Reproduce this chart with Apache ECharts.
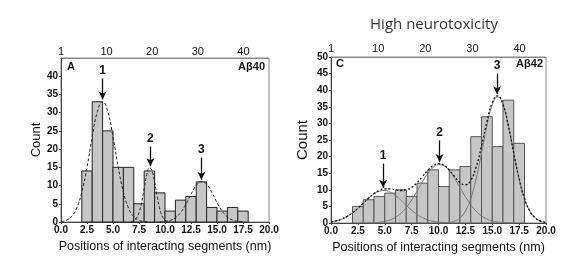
<!DOCTYPE html>
<html><head><meta charset="utf-8">
<script src="https://cdn.jsdelivr.net/npm/echarts@6/dist/echarts.min.js"></script>
<style>html,body{margin:0;padding:0;background:#fff}#c{width:573px;height:263px}</style>
</head><body><div id="c"></div><script>
// ---- data ----
const binStarts = [2,3,4,5,6,7,8,9,10,11,12,13,14,15,16,17];
const binWidth = 1;
const countsA = [14,33,25,15,15,5,14,8,3,6,7,11,4,3,4,3];
const countsC = [5,7,8,9,10,8,12,16,11,16,17,26,32,23,37,24];

// top residue axis tick labels
const topTickValues = [0,10,20,30,40];
const topTickLabels = ['1','10','20','30','40'];

// Panel A fitted curves
const curveA1 = [[0,0.13],[0.5,0.47],[1,1.45],[1.5,3.77],[2,8.23],[2.5,15.1],[3,23.3],[3.5,30.3],[4,33.0],[4.5,30.3],[5,23.3],[5.5,15.1],[6,8.23],[6.5,3.77],[7,1.45],[7.5,0.47],[8,0.13],[8.5,0.03]];
const curveA2 = [[6.75,0.09],[7,0.33],[7.25,1.01],[7.5,2.59],[7.75,5.4],[8,9.26],[8.25,13.0],[8.5,14.94],[8.75,14.07],[9,10.86],[9.25,6.87],[9.5,3.56],[9.75,1.51],[10,0.52],[10.25,0.15],[10.5,0.03]];
const curveA3 = [[9.5,0.04],[10,0.14],[10.5,0.44],[11,1.16],[11.5,2.58],[12,4.82],[12.5,7.57],[13,9.99],[13.5,11.09],[14,10.35],[14.5,8.11],[15,5.35],[15.5,2.96],[16,1.38],[16.5,0.54],[17,0.18],[17.5,0.05]];

// Panel C fitted components and sum
const curveC1 = [[0,0.35],[0.5,0.67],[1,1.19],[1.5,1.98],[2,3.06],[2.5,4.41],[3,5.94],[3.5,7.47],[4,8.76],[4.5,9.58],[5,9.79],[5.5,9.32],[6,8.29],[6.5,6.87],[7,5.32],[7.5,3.84],[8,2.59],[8.5,1.63],[9,0.96],[9.5,0.52],[10,0.27],[10.5,0.13],[11,0.06],[11.5,0.02]];
const curveC2 = [[3.5,0.04],[4,0.1],[4.5,0.23],[5,0.48],[5.5,0.94],[6,1.72],[6.5,2.92],[7,4.65],[7.5,6.9],[8,9.56],[8.5,12.34],[9,14.88],[9.5,16.74],[10,17.58],[10.5,17.21],[11,15.73],[11.5,13.41],[12,10.67],[12.5,7.93],[13,5.49],[13.5,3.55],[14,2.14],[14.5,1.21],[15,0.63],[15.5,0.31],[16,0.14],[16.5,0.06],[17,0.02]];
const curveC3 = [[10,0.01],[10.5,0.05],[11,0.19],[11.5,0.57],[12,1.52],[12.5,3.58],[13,7.36],[13.5,13.3],[14,21.05],[14.5,29.23],[15,35.59],[15.5,38.0],[16,35.59],[16.5,29.23],[17,21.05],[17.5,13.3],[18,7.36],[18.5,3.58],[19,1.52],[19.5,0.57],[20,0.19]];
const curveCsum = [[0,0.35],[0.5,0.67],[1,1.19],[1.5,1.98],[2,3.06],[2.5,4.41],[3,5.94],[3.5,7.51],[4,8.86],[4.5,9.81],[5,10.27],[5.5,10.26],[6,10.01],[6.5,9.79],[7,9.97],[7.5,10.74],[8,12.15],[8.5,13.97],[9,15.84],[9.5,17.26],[10,17.86],[10.5,17.39],[11,15.98],[11.5,14.0],[12,12.19],[12.5,11.51],[13,12.85],[13.5,16.85],[14,23.19],[14.5,30.44],[15,36.22],[15.5,38.31],[16,35.73],[16.5,29.29],[17,21.07],[17.5,13.3],[18,7.36],[18.5,3.58],[19,1.52],[19.5,0.57],[20,0.19]];

// peak arrows: label, x position, arrow start (top), arrow tip
const arrowLabelsA = ['1','2','3'];
const arrowXA = [4.0, 8.6, 13.5];
const arrowTopA = [39.4, 20.7, 17.7];
const arrowTipA = [33.6, 15.3, 11.6];
const arrowLabelsC = ['1','2','3'];
const arrowXC = [4.85, 10.1, 15.45];
const arrowTopC = [17.9, 24.9, 45.0];
const arrowTipC = [10.6, 18.4, 38.8];

// ---- chart ----
const FONT = 'Liberation Sans, Arial, sans-serif';
const chart = echarts.init(document.getElementById('c'), null, {renderer:'canvas'});

function barRenderer(fill, stroke){
  return function(params, api){
    const x0 = api.value(0), y = api.value(1);
    const p0 = api.coord([x0, 0]);
    const p1 = api.coord([x0 + binWidth, y]);
    return {type:'rect', shape:{x:p0[0], y:p1[1], width:p1[0]-p0[0], height:p0[1]-p1[1]},
      style:{fill:fill, stroke:stroke, lineWidth:1}};
  };
}
function arrows(labels, xs, tops, tips){
  return labels.map((l,i)=>[{coord:[xs[i], tops[i]], name:l},{coord:[xs[i], tips[i]]}]);
}
function markArrows(labels, xs, tops, tips){
  return {
    silent:true, animation:false, symbol:['none','arrow'], symbolSize:[6,8],
    lineStyle:{color:'#111', width:1.3, type:'solid'},
    label:{show:true, position:'start', formatter:'{b}', fontFamily:FONT, fontWeight:'bold', fontSize:12, color:'#111', distance:2},
    emphasis:{disabled:true},
    data: arrows(labels, xs, tops, tips)
  };
}
const axisLbl = {fontFamily:FONT, fontWeight:'bold', fontSize:10, color:'#111', margin:3};
function bottomX(gi){
  return {gridIndex:gi, type:'value', position:'bottom', min:0, max:20, interval:2.5,
    axisLine:{show:true, lineStyle:{color:'#444'}}, axisTick:{show:true, length:2, lineStyle:{color:'#444'}},
    splitLine:{show:false},
    axisLabel:Object.assign({formatter:v=>v.toFixed(1)}, axisLbl),
    name:'Positions of interacting segments (nm)', nameLocation:'middle', nameGap:16,
    nameTextStyle:{fontFamily:FONT, fontSize:12.5, color:'#111'}};
}
function topX(gi, margin){
  return {gridIndex:gi, type:'value', position:'top', min:0, max:45.6, interval:10,
    axisLine:{show:true, lineStyle:{color:'#888'}}, axisTick:{show:false}, splitLine:{show:false},
    axisLabel:{fontFamily:FONT, fontSize:11, color:'#111', margin:margin, showMaxLabel:false,
      formatter:v=>{const k=topTickValues.indexOf(v); return k<0?'':topTickLabels[k];}}};
}
function leftY(gi, max, nameGap, nameSize, hideMax){
  return {gridIndex:gi, type:'value', min:0, max:max, interval:5,
    axisLine:{show:true, lineStyle:{color:'#444'}}, axisTick:{show:true, length:2, lineStyle:{color:'#444'}},
    splitLine:{show:false},
    axisLabel:Object.assign({showMaxLabel:!hideMax}, axisLbl),
    name:'Count', nameLocation:'middle', nameGap:nameGap, nameRotate:90,
    nameTextStyle:{fontFamily:FONT, fontSize:nameSize, color:'#111'}};
}
function line(data, xi, yi, color, type, width, z){
  return {type:'line', xAxisIndex:xi, yAxisIndex:yi, data:data, smooth:0.5, symbol:'none',
    lineStyle:{color:color, type:type, width:width}, z:z, animation:false, silent:true};
}

const sA1 = line(curveA1, 0, 0, '#222', [3,2], 1, 3);
sA1.markLine = markArrows(arrowLabelsA, arrowXA, arrowTopA, arrowTipA);
const sCsum = line(curveCsum, 2, 1, '#111', [2,2], 1.3, 4);
sCsum.markLine = markArrows(arrowLabelsC, arrowXC, arrowTopC, arrowTipC);

chart.setOption({
  animation:false,
  backgroundColor:'#fff',
  grid:[
    {left:61, right:304, top:58, bottom:41, show:true, borderColor:'#888', borderWidth:1, containLabel:false},
    {left:331, right:27, top:57, bottom:40, show:true, borderColor:'#888', borderWidth:1, containLabel:false}
  ],
  xAxis:[bottomX(0), topX(0, 1), bottomX(1), topX(1, 3)],
  yAxis:[leftY(0, 45, 18, 13, true), leftY(1, 50, 21, 15, false)],
  title:{text:'High neurotoxicity', left:429, top:12, textAlign:'center',
    textStyle:{fontFamily:'Open Sans', fontWeight:'normal', fontSize:15, color:'#333'}},
  graphic:[
    {type:'text', left:67, top:61, style:{text:'A', font:'bold 11px Liberation Sans', fill:'#111'}},
    {type:'text', right:308, top:61, style:{text:'Aβ40', font:'bold 11px Liberation Sans', fill:'#111'}},
    {type:'text', left:336, top:58, style:{text:'C', font:'bold 11px Liberation Sans', fill:'#111'}},
    {type:'text', right:30, top:58, style:{text:'Aβ42', font:'bold 11px Liberation Sans', fill:'#111'}}
  ],
  series:[
    {type:'custom', xAxisIndex:0, yAxisIndex:0, renderItem:barRenderer('#c6c6c6','#222'),
      data:binStarts.map((b,i)=>[b, countsA[i]]), z:1, silent:true},
    {type:'custom', xAxisIndex:2, yAxisIndex:1, renderItem:barRenderer('#c6c6c6','#555'),
      data:binStarts.map((b,i)=>[b, countsC[i]]), z:1, silent:true},
    sA1,
    line(curveA2, 0, 0, '#222', [3,2], 1, 3),
    line(curveA3, 0, 0, '#222', [3,2], 1, 3),
    line(curveC1, 2, 1, '#777', 'solid', 1, 3),
    line(curveC2, 2, 1, '#777', 'solid', 1, 3),
    line(curveC3, 2, 1, '#777', 'solid', 1, 3),
    sCsum
  ]
});
</script></body></html>
